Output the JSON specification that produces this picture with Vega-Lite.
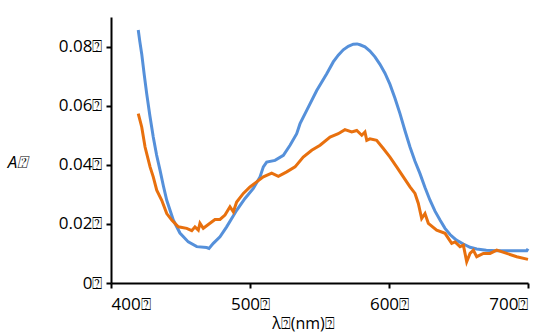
{
  "$schema": "https://vega.github.io/schema/vega-lite/v6.json",
  "width": 417,
  "height": 266,
  "autosize": "none",
  "padding": {"left": 111, "top": 17, "right": 27, "bottom": 52},
  "background": "white",
  "config": {"view": {"stroke": null}, "font": "Open Sans"},
  "datasets": {
    "blue": [
      {"wl": 419.6, "a": 0.0856}, {"wl": 420.8, "a": 0.0815}, {"wl": 422.1, "a": 0.0775}, {"wl": 423.9, "a": 0.0705}, {"wl": 425.7, "a": 0.0640}, {"wl": 428.0, "a": 0.0565}, {"wl": 430.4, "a": 0.0494},
      {"wl": 432.8, "a": 0.0433}, {"wl": 435.3, "a": 0.0381}, {"wl": 437.7, "a": 0.0328}, {"wl": 440.1, "a": 0.0280}, {"wl": 444.8, "a": 0.0213}, {"wl": 449.6, "a": 0.0169},
      {"wl": 455.6, "a": 0.0139}, {"wl": 461.7, "a": 0.0123}, {"wl": 468.8, "a": 0.0120}, {"wl": 470.5, "a": 0.0117}, {"wl": 473.6, "a": 0.0134},
      {"wl": 478.4, "a": 0.0156}, {"wl": 483.2, "a": 0.0190}, {"wl": 490.4, "a": 0.0246}, {"wl": 496.4, "a": 0.0286},
      {"wl": 502.4, "a": 0.0320}, {"wl": 507.2, "a": 0.0359}, {"wl": 509.6, "a": 0.0393}, {"wl": 512.0, "a": 0.0409},
      {"wl": 518.0, "a": 0.0415}, {"wl": 524.0, "a": 0.0432}, {"wl": 528.8, "a": 0.0466}, {"wl": 533.6, "a": 0.0505},
      {"wl": 536.0, "a": 0.0539}, {"wl": 540.8, "a": 0.0584}, {"wl": 548.0, "a": 0.0651}, {"wl": 555.2, "a": 0.0708},
      {"wl": 559.9, "a": 0.0748}, {"wl": 563.5, "a": 0.0771}, {"wl": 567.1, "a": 0.0789}, {"wl": 570.7, "a": 0.0801}, {"wl": 574.3, "a": 0.0808}, {"wl": 577.0, "a": 0.0809}, {"wl": 579.1, "a": 0.0806},
      {"wl": 582.7, "a": 0.0799}, {"wl": 586.3, "a": 0.0785}, {"wl": 589.9, "a": 0.0765}, {"wl": 593.5, "a": 0.0740}, {"wl": 597.1, "a": 0.0710}, {"wl": 600.7, "a": 0.0672}, {"wl": 604.3, "a": 0.0625}, {"wl": 607.9, "a": 0.0573},
      {"wl": 611.5, "a": 0.0515}, {"wl": 615.1, "a": 0.0460}, {"wl": 618.7, "a": 0.0412}, {"wl": 622.3, "a": 0.0370}, {"wl": 625.9, "a": 0.0323}, {"wl": 629.5, "a": 0.0280}, {"wl": 633.1, "a": 0.0243}, {"wl": 636.7, "a": 0.0213},
      {"wl": 640.3, "a": 0.0185}, {"wl": 643.9, "a": 0.0164}, {"wl": 648.5, "a": 0.0145}, {"wl": 653.5, "a": 0.0132}, {"wl": 658.3, "a": 0.0121}, {"wl": 663.1, "a": 0.0115}, {"wl": 670.0, "a": 0.0111}, {"wl": 677.5, "a": 0.0109},
      {"wl": 699.1, "a": 0.0109}, {"wl": 700.0, "a": 0.0116}
    ],
    "orange": [
      {"wl": 419.6, "a": 0.0573}, {"wl": 422.1, "a": 0.0528}, {"wl": 424.5, "a": 0.0460}, {"wl": 428.1, "a": 0.0393},
      {"wl": 430.4, "a": 0.0359}, {"wl": 432.9, "a": 0.0314}, {"wl": 436.5, "a": 0.0280}, {"wl": 440.1, "a": 0.0235},
      {"wl": 443.7, "a": 0.0213}, {"wl": 448.4, "a": 0.0190}, {"wl": 454.5, "a": 0.0185}, {"wl": 458.1, "a": 0.0177},
      {"wl": 460.4, "a": 0.0190}, {"wl": 462.8, "a": 0.0179}, {"wl": 464.0, "a": 0.0202}, {"wl": 466.4, "a": 0.0185},
      {"wl": 471.2, "a": 0.0202}, {"wl": 474.8, "a": 0.0215}, {"wl": 478.4, "a": 0.0215}, {"wl": 482.0, "a": 0.0230},
      {"wl": 485.6, "a": 0.0258}, {"wl": 488.0, "a": 0.0241}, {"wl": 490.4, "a": 0.0274}, {"wl": 495.2, "a": 0.0303},
      {"wl": 500.0, "a": 0.0325}, {"wl": 504.8, "a": 0.0342}, {"wl": 509.6, "a": 0.0359}, {"wl": 515.6, "a": 0.0372},
      {"wl": 520.4, "a": 0.0361}, {"wl": 526.4, "a": 0.0376}, {"wl": 532.4, "a": 0.0393}, {"wl": 538.3, "a": 0.0426},
      {"wl": 544.4, "a": 0.0449}, {"wl": 550.4, "a": 0.0466}, {"wl": 557.6, "a": 0.0494}, {"wl": 563.5, "a": 0.0505},
      {"wl": 568.3, "a": 0.0519}, {"wl": 573.2, "a": 0.0511}, {"wl": 576.8, "a": 0.0516}, {"wl": 580.4, "a": 0.0500},
      {"wl": 582.7, "a": 0.0511}, {"wl": 584.0, "a": 0.0483}, {"wl": 586.3, "a": 0.0488}, {"wl": 591.1, "a": 0.0483},
      {"wl": 595.9, "a": 0.0455}, {"wl": 600.7, "a": 0.0426}, {"wl": 605.5, "a": 0.0393}, {"wl": 610.3, "a": 0.0359},
      {"wl": 615.1, "a": 0.0325}, {"wl": 618.7, "a": 0.0303}, {"wl": 621.1, "a": 0.0269}, {"wl": 623.5, "a": 0.0218},
      {"wl": 625.9, "a": 0.0235}, {"wl": 628.3, "a": 0.0202}, {"wl": 634.3, "a": 0.0179}, {"wl": 640.3, "a": 0.0168},
      {"wl": 645.1, "a": 0.0134}, {"wl": 647.5, "a": 0.0139}, {"wl": 651.1, "a": 0.0123}, {"wl": 653.5, "a": 0.0128},
      {"wl": 655.9, "a": 0.0072}, {"wl": 658.3, "a": 0.0100}, {"wl": 660.7, "a": 0.0111}, {"wl": 663.1, "a": 0.0089},
      {"wl": 667.9, "a": 0.0100}, {"wl": 672.7, "a": 0.0100}, {"wl": 677.5, "a": 0.0111}, {"wl": 684.7, "a": 0.0100},
      {"wl": 691.9, "a": 0.0089}, {"wl": 700.0, "a": 0.0080}
    ]
  },
  "encoding": {
    "x": {
      "field": "wl", "type": "quantitative",
      "scale": {"domain": [400, 700], "nice": false, "zero": false},
      "axis": {
        "values": [400, 500, 600, 700],
        "grid": false,
        "domainColor": "black", "domainWidth": 2,
        "tickColor": "black", "tickWidth": 2, "tickSize": 5,
        "labelExpr": "datum.label + '⍰'",
        "labelFontSize": 17, "labelColor": "black", "labelPadding": 8,
        "title": "λ⍰(nm)⍰", "titleFontSize": 16, "titleFontWeight": "normal", "titleColor": "black",
        "titleX": 192, "titleY": 32, "titleBaseline": "top", "titleAlign": "center"
      }
    },
    "y": {
      "field": "a", "type": "quantitative",
      "scale": {"domain": [0, 0.09], "nice": false},
      "axis": {
        "values": [0, 0.02, 0.04, 0.06, 0.08],
        "grid": false,
        "domainColor": "black", "domainWidth": 2,
        "tickColor": "black", "tickWidth": 2, "tickSize": 5,
        "labelExpr": "datum.value == 0 ? '0⍰' : format(datum.value, '.2f') + '⍰'",
        "labelFontSize": 17, "labelColor": "black", "labelPadding": 4,
        "title": "A⍰", "titleFontSize": 17, "titleFontStyle": "italic", "titleFontWeight": "normal", "titleColor": "black",
        "titleAngle": 0, "titleX": -94, "titleY": 145, "titleAlign": "center", "titleBaseline": "middle"
      }
    }
  },
  "layer": [
    {"data": {"name": "blue"}, "mark": {"type": "line", "color": "#5590DA", "strokeWidth": 3, "interpolate": "linear"}},
    {"data": {"name": "orange"}, "mark": {"type": "line", "color": "#E8700E", "strokeWidth": 3, "interpolate": "linear"}}
  ]
}
